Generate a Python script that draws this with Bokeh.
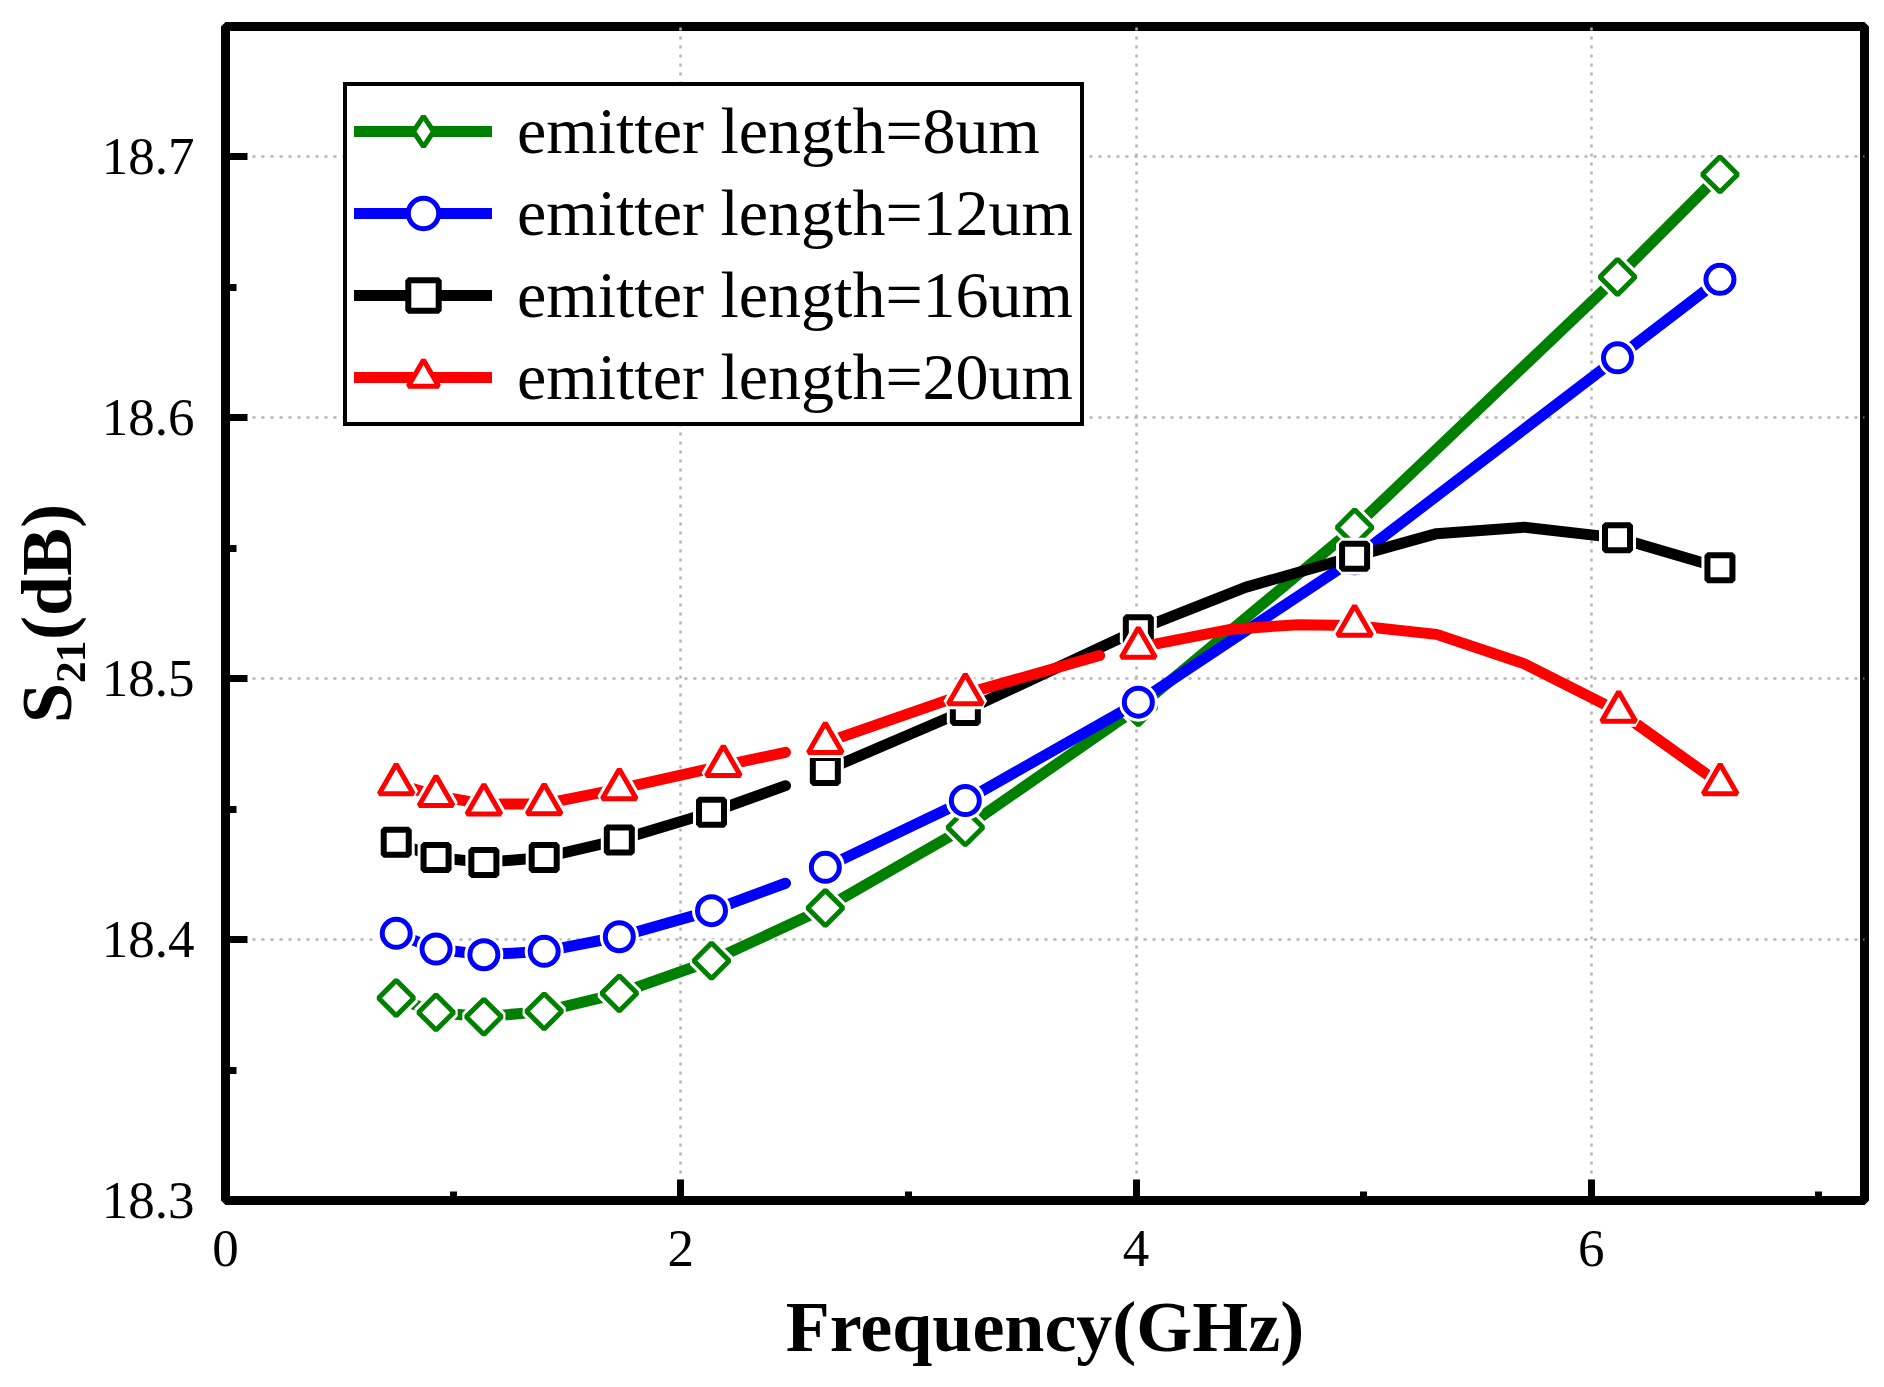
import numpy as np
from bokeh.plotting import figure
from bokeh.models import (Range1d, SingleIntervalTicker, PrintfTickFormatter,
                          Legend, LegendItem)
from bokeh.embed import file_html
from bokeh.resources import INLINE

nan = float("nan")

# ---------------- data ----------------
# marker positions, frequency in GHz
freq_mk = [0.75, 0.925, 1.135, 1.40, 1.73, 2.135, 2.635, 3.25, 4.01, 4.96, 6.115, 6.565]
freq_mk_20 = [0.75, 0.925, 1.135, 1.40, 1.73, 2.187, 2.635, 3.25, 4.01, 4.96, 6.12, 6.566]

s21_8um_mk = [18.3776, 18.3721, 18.3704, 18.3725, 18.3794, 18.3919, 18.4121, 18.4430,
              18.4890, 18.5580, 18.6540, 18.6933]
s21_12um_mk = [18.4024, 18.3964, 18.3942, 18.3955, 18.4011, 18.4111, 18.4277, 18.4533,
               18.4910, 18.5460, 18.6230, 18.6531]
s21_16um_mk = [18.4373, 18.4315, 18.4296, 18.4315, 18.4382, 18.4488, 18.4648, 18.4878,
               18.5188, 18.5469, 18.5540, 18.5425]
s21_20um_mk = [18.4597, 18.4552, 18.4519, 18.4520, 18.4578, 18.4667, 18.4755, 18.4942,
               18.5120, 18.5204, 18.4875, 18.4597]

# connecting curves (nan = break in the drawn line)
freq_ln_8um = [0.75, 0.925, 1.135, 1.40, 1.73, 2.135, 2.635, 3.25, 4.01, 4.96, 6.115, 6.565]
s21_8um_ln = [18.3776, 18.3721, 18.3704, 18.3725, 18.3794, 18.3919, 18.4121, 18.4430,
              18.4890, 18.5580, 18.6540, 18.6933]

freq_ln_12um = [0.75, 0.925, 1.135, 1.40, 1.73, 2.135, 2.46, nan, 2.635, 3.25, 4.01,
                4.96, 6.115, 6.565]
s21_12um_ln = [18.4024, 18.3964, 18.3942, 18.3955, 18.4011, 18.4111, 18.4216, nan,
               18.4277, 18.4533, 18.4910, 18.5460, 18.6230, 18.6531]

freq_ln_16um = [0.75, 0.925, 1.135, 1.40, 1.73, 2.135, 2.46, nan, 2.635, 3.25, 4.01,
                4.48, 4.96, 5.32, 5.706, 6.115, 6.565]
s21_16um_ln = [18.4373, 18.4315, 18.4296, 18.4315, 18.4382, 18.4488, 18.4590, nan,
               18.4648, 18.4878, 18.5188, 18.5350, 18.5469, 18.5556, 18.5581, 18.5540,
               18.5425]

freq_ln_20um = [0.75, 0.925, 1.135, 1.40, 1.73, 2.187, 2.46, nan, 2.635, 3.25, 3.84, nan,
                4.01, 4.42, 4.71, 4.96, 5.32, 5.706, 6.12, 6.566]
s21_20um_ln = [18.4597, 18.4552, 18.4519, 18.4520, 18.4578, 18.4667, 18.4718, nan,
               18.4755, 18.4942, 18.5089, nan, 18.5120, 18.5190, 18.5207, 18.5204,
               18.5170, 18.5057, 18.4875, 18.4597]

labels = ["emitter length=8um", "emitter length=12um",
          "emitter length=16um", "emitter length=20um"]
colors = ["#008000", "#0000ff", "#000000", "#ff0000"]
x_axis_title = "Frequency(GHz)"
y_axis_title = "S\u2082\u2081(dB)"

FONT = "Liberation Serif"

# ---------------- figure ----------------
p = figure(frame_width=1639, frame_height=1174,
           x_range=Range1d(0, 7.2), y_range=Range1d(18.3, 18.75),
           output_backend="svg", toolbar_location=None,
           min_border_left=225, min_border_right=12,
           min_border_top=26, min_border_bottom=180,
           background_fill_color="white", border_fill_color="white")

p.outline_line_color = "black"
p.outline_line_width = 9
p.outline_line_alpha = 1.0

p.xaxis.ticker = SingleIntervalTicker(interval=2, num_minor_ticks=2)
p.yaxis.ticker = SingleIntervalTicker(interval=0.1, num_minor_ticks=2)
p.xaxis.formatter = PrintfTickFormatter(format="%d")
p.yaxis.formatter = PrintfTickFormatter(format="%.1f")

for ax in (p.xaxis, p.yaxis):
    ax.axis_line_width = 9
    ax.axis_line_color = "black"
    ax.major_tick_line_width = 7
    ax.minor_tick_line_width = 7
    ax.major_tick_out = 0
    ax.minor_tick_out = 0
    ax.major_label_text_font = FONT
    ax.major_label_text_font_size = "53px"
    ax.major_label_text_color = "black"
    ax.axis_label_text_font = FONT
    ax.axis_label_text_font_size = "72px"
    ax.axis_label_text_font_style = "bold"
    ax.axis_label_text_color = "black"

p.xaxis.major_tick_in = 21
p.xaxis.minor_tick_in = 9
p.yaxis.major_tick_in = 22
p.yaxis.minor_tick_in = 11
p.xaxis.major_label_standoff = 30
p.yaxis.major_label_standoff = 31
p.xaxis.axis_label = x_axis_title
p.yaxis.axis_label = y_axis_title
p.xaxis.axis_label_standoff = 18
p.yaxis.axis_label_standoff = 12

for g in (p.xgrid, p.ygrid):
    g.grid_line_color = "#b4b4b4"
    g.grid_line_width = 2.5
    g.grid_line_dash = "3 6"

series = [
    (freq_ln_8um, s21_8um_ln, freq_mk, s21_8um_mk, "square", np.pi / 4, 25, 5),
    (freq_ln_12um, s21_12um_ln, freq_mk, s21_12um_mk, "circle", 0.0, 28, 5),
    (freq_ln_16um, s21_16um_ln, freq_mk, s21_16um_mk, "square", 0.0, 25, 6),
    (freq_ln_20um, s21_20um_ln, freq_mk_20, s21_20um_mk, "triangle", 0.0, 34, 5),
]

items = []
for (fl, sl, fm, sm, mk, ang, sz, lw), col, lab in zip(series, colors, labels):
    ln = p.line(fl, sl, line_color=col, line_width=11, line_cap="round", line_join="round")
    p.scatter(fm, sm, marker=mk, angle=ang, size=sz, fill_color="white",
              line_color="white", line_width=lw + 6)
    mr = p.scatter(fm, sm, marker=mk, angle=ang, size=sz, fill_color="white",
                   line_color=col, line_width=lw)
    if ang != 0.0:
        # legend symbol: upright diamond (hidden in the plot area)
        mr = p.scatter(fm, sm, marker="diamond", size=sz, fill_color="white",
                       line_color=col, line_width=lw, visible=False)
    items.append(LegendItem(label=lab, renderers=[ln, mr]))

legend = Legend(items=items, location=(118, 774), margin=0,
                glyph_width=138, glyph_height=76, label_standoff=25,
                spacing=6, padding=7,
                label_text_font=FONT, label_text_font_size="66px",
                label_text_color="black",
                border_line_color="black", border_line_width=4,
                border_line_alpha=1.0,
                background_fill_color="white", background_fill_alpha=1.0)
p.add_layout(legend)

open("out.html", "w").write(file_html(p, INLINE))
